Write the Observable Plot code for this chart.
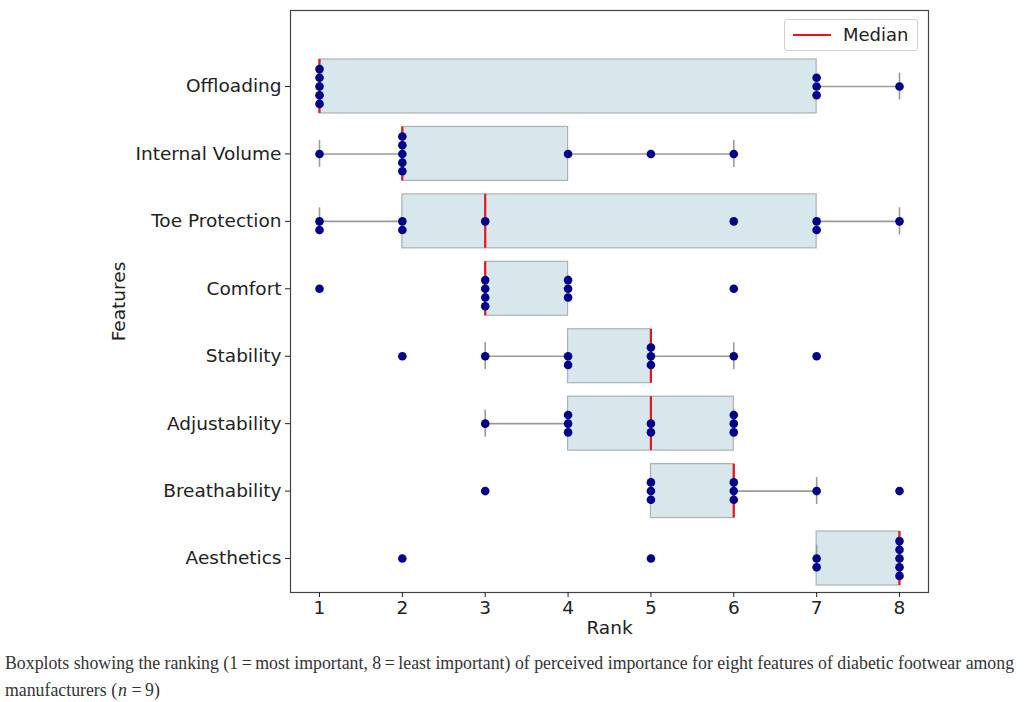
<!DOCTYPE html>
<html>
<head>
<meta charset="utf-8">
<script src="https://cdn.jsdelivr.net/npm/d3@7"></script>
<script src="https://cdn.jsdelivr.net/npm/@observablehq/plot@0.6"></script>
<style>
  body { margin: 0; background: #fff; }
  #wrap { position: relative; width: 1024px; }
  #legend { position: absolute; left: 784px; top: 19px; width: 134px; height: 32px; border: 1px solid #d0d0d0; border-radius: 3px; background: rgba(255,255,255,0.9); font-family: "DejaVu Sans", sans-serif; font-size: 18px; color: #222; box-sizing: border-box; }
  #legend .ln { position: absolute; left: 8px; top: 14px; width: 38px; height: 2px; background: #e8161b; }
  #legend .tx { position: absolute; left: 58px; top: 4px; }
  #caption { font-family: "Liberation Serif", serif; font-size: 17.8px; color: #333; line-height: 27px; padding: 4px 0 0 5px; width: 1015px; }
  #caption i { padding: 0 1px; }
</style>
</head>
<body>
<div id="wrap">
  <div id="chart"></div>
  <div id="legend"><div class="ln"></div><div class="tx">Median</div></div>
  <div id="caption">Boxplots showing the ranking (1&#8201;=&#8201;most important, 8&#8201;=&#8201;least important) of perceived importance for eight features of diabetic footwear among manufacturers (<i>n</i>&#8201;=&#8201;9)</div>
</div>
<script>
const features = ["Offloading", "Internal Volume", "Toe Protection", "Comfort", "Stability", "Adjustability", "Breathability", "Aesthetics"];
const offloading     = [1, 1, 1, 1, 1, 7, 7, 7, 8];
const internalVolume = [1, 2, 2, 2, 2, 2, 4, 5, 6];
const toeProtection  = [1, 1, 2, 2, 3, 6, 7, 7, 8];
const comfort        = [1, 3, 3, 3, 3, 4, 4, 4, 6];
const stability      = [2, 3, 4, 4, 5, 5, 5, 6, 7];
const adjustability  = [3, 4, 4, 4, 5, 5, 6, 6, 6];
const breathability  = [3, 5, 5, 5, 6, 6, 6, 7, 8];
const aesthetics     = [2, 5, 7, 7, 8, 8, 8, 8, 8];
const rankTicks = [1, 2, 3, 4, 5, 6, 7, 8];

const allRanks = [offloading, internalVolume, toeProtection, comfort, stability, adjustability, breathability, aesthetics];

const stats = allRanks.map((vals, i) => {
  const s = vals.slice().sort(d3.ascending);
  const q1 = d3.quantile(s, 0.25), med = d3.quantile(s, 0.5), q3 = d3.quantile(s, 0.75);
  const iqr = q3 - q1;
  const lo = d3.min(s.filter(v => v >= q1 - 1.5 * iqr));
  const hi = d3.max(s.filter(v => v <= q3 + 1.5 * iqr));
  return {i, q1, med, q3, lo, hi};
});

const dots = [];
allRanks.forEach((vals, i) => {
  const groups = d3.rollup(vals, v => v.length, v => v);
  for (const [r, n] of groups) {
    const start = -Math.floor((n - 1) / 2);
    for (let k = 0; k < n; k++) dots.push({x: r, y: i + (start + k) * 0.129});
  }
});

const whiskers = stats.flatMap(s => [{i: s.i, a: s.lo, b: s.q1}, {i: s.i, a: s.q3, b: s.hi}]);
const caps = stats.flatMap(s => [{i: s.i, x: s.lo}, {i: s.i, x: s.hi}]);

const plot = Plot.plot({
  width: 1024,
  height: 646,
  marginTop: 10,
  marginBottom: 54,
  marginLeft: 290,
  marginRight: 96,
  style: {fontFamily: "DejaVu Sans, sans-serif", fontSize: "18.5px", color: "#222", background: "#fff"},
  x: {domain: [0.65, 8.35]},
  y: {domain: [7.504, -1.127]},
  marks: [
    Plot.rect(stats, {x1: "q1", x2: "q3", y1: d => d.i - 0.4, y2: d => d.i + 0.4, fill: "#d8e7eb", stroke: "#a9b3b5", strokeWidth: 1.2}),
    Plot.ruleY(whiskers, {x1: "a", x2: "b", y: "i", stroke: "#9a9a9a", strokeWidth: 1.6}),
    Plot.ruleX(caps, {x: "x", y1: d => d.i - 0.2, y2: d => d.i + 0.2, stroke: "#9a9a9a", strokeWidth: 1.6}),
    Plot.ruleX(stats, {x: "med", y1: d => d.i - 0.4, y2: d => d.i + 0.4, stroke: "#e8161b", strokeWidth: 2.2}),
    Plot.dot(dots, {x: "x", y: "y", r: 4.3, fill: "#00008b", stroke: "none"}),
    Plot.frame({stroke: "#444", strokeWidth: 1.2}),
    Plot.axisX({ticks: rankTicks, tickFormat: d => String(d), tickSize: 5, tickPadding: 3, label: "Rank", labelAnchor: "center", labelArrow: "none", labelOffset: 41}),
    Plot.axisY({ticks: d3.range(features.length), tickFormat: i => features[i], tickSize: 5, tickPadding: 4, label: "Features", labelAnchor: "center", labelArrow: "none", labelOffset: 179})
  ]
});
document.getElementById("chart").appendChild(plot);
</script>
</body>
</html>
